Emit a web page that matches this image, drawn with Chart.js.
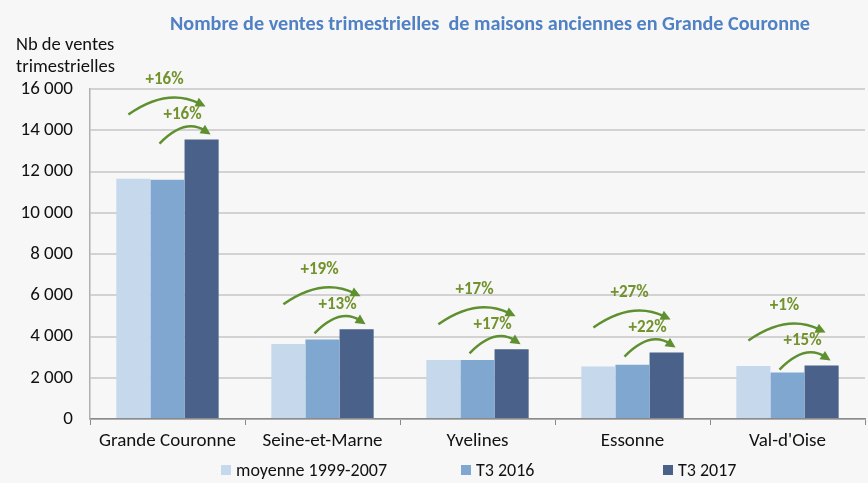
<!DOCTYPE html>
<html>
<head>
<meta charset="utf-8">
<script src="https://cdn.jsdelivr.net/npm/chart.js@4"></script>
<style>
  html, body { margin: 0; padding: 0; background: #f7f7f7; }
  #wrap { width: 868px; height: 483px; position: relative; }
</style>
</head>
<body>
<div id="wrap"><canvas id="chart"></canvas></div>
<script>
// Data
const categories = ['Grande Couronne', 'Seine-et-Marne', 'Yvelines', 'Essonne', "Val-d'Oise"];
const seriesNames = ['moyenne 1999-2007', 'T3 2016', 'T3 2017'];
const moyenne = [11650, 3640, 2860, 2540, 2570];
const t3_2016 = [11600, 3860, 2860, 2630, 2260];
const t3_2017 = [13550, 4350, 3380, 3220, 2590];
const evolVsMoyenne = ['+16%', '+19%', '+17%', '+27%', '+1%'];
const evolVs2016 = ['+16%', '+13%', '+17%', '+22%', '+15%'];
const yMax = 16000;
const yStep = 2000;

const colors = ['#c5d8ec', '#80a7cf', '#4a6189'];
const arrowGreen = '#5f9030';
const labelGreen = '#72922c';
const font = 'Carlito, Lato, sans-serif';

function formatNb(v) {
    return String(v).replace(/\B(?=(\d{3})+(?!\d))/g, ' ');
}

// Draws a curved arrow (quadratic) with a filled head at the end
function curvedArrow(ctx, sx, sy, ex, ey, lift) {
    const cx = (sx + ex) / 2;
    const cy = Math.min(sy, ey) - lift;
    const ang = Math.atan2(ey - cy, ex - cx);
    const head = 10;
    const lx = ex - Math.cos(ang) * head * 0.7;
    const ly = ey - Math.sin(ang) * head * 0.7;
    ctx.beginPath();
    ctx.moveTo(sx, sy);
    ctx.quadraticCurveTo(cx, cy, lx, ly);
    ctx.stroke();
    ctx.beginPath();
    ctx.moveTo(ex, ey);
    ctx.lineTo(ex - Math.cos(ang) * head + Math.sin(ang) * 5, ey - Math.sin(ang) * head - Math.cos(ang) * 5);
    ctx.lineTo(ex - Math.cos(ang) * head - Math.sin(ang) * 5, ey - Math.sin(ang) * head + Math.cos(ang) * 5);
    ctx.closePath();
    ctx.fill();
}

// Title, y axis title, growth arrows and legend
const extras = {
    id: 'extras',
    afterDatasetsDraw(chart) {
        const ctx = chart.ctx;
        ctx.save();
        ctx.lineWidth = 2.5;
        categories.forEach((c, i) => {
            const b0 = chart.getDatasetMeta(0).data[i];
            const b1 = chart.getDatasetMeta(1).data[i];
            const b2 = chart.getDatasetMeta(2).data[i];
            const top = b2.y;
            const w = b2.width;
            ctx.strokeStyle = arrowGreen;
            ctx.fillStyle = arrowGreen;
            // outer arrow: moyenne -> T3 2017
            curvedArrow(ctx, b0.x - 5, top - 25, b2.x + 4, top - 33, 19);
            // inner arrow: T3 2016 -> T3 2017
            curvedArrow(ctx, b1.x - 8, top + 4, b2.x + 9, top - 5, 17);
            ctx.fillStyle = labelGreen;
            ctx.font = 'bold 17px ' + font;
            ctx.textAlign = 'center';
            ctx.textBaseline = 'middle';
            ctx.fillText(evolVsMoyenne[i], b1.x - 3, top - 60);
            ctx.fillText(evolVs2016[i], b1.x + w / 2 - 2, top - 25);
        });
        ctx.restore();
    },
    afterDraw(chart) {
        const ctx = chart.ctx;
        ctx.save();
        ctx.fillStyle = '#4f81c4';
        ctx.font = 'bold 20.2px ' + font;
        ctx.textAlign = 'center';
        ctx.textBaseline = 'middle';
        ctx.fillText('Nombre de ventes trimestrielles  de maisons anciennes en Grande Couronne', 490, 25);

        ctx.fillStyle = '#111';
        ctx.font = '18.5px ' + font;
        ctx.textAlign = 'left';
        ctx.fillText('Nb de ventes', 16, 45);
        ctx.fillText('trimestrielles', 16, 67);

        // legend
        ctx.font = '18px ' + font;
        const legendX = [221, 461, 663];
        seriesNames.forEach((name, k) => {
            ctx.fillStyle = colors[k];
            ctx.fillRect(legendX[k], 465, 10, 10);
            ctx.fillStyle = '#111';
            ctx.fillText(name, legendX[k] + 15, 471);
        });
        ctx.restore();
    }
};

const ctx1 = document.getElementById('chart').getContext('2d');

new Chart(ctx1, {
    type: 'bar',
    data: {
        labels: categories,
        datasets: [
            { label: seriesNames[0], data: moyenne, backgroundColor: colors[0] },
            { label: seriesNames[1], data: t3_2016, backgroundColor: colors[1] },
            { label: seriesNames[2], data: t3_2017, backgroundColor: colors[2] }
        ]
    },
    options: {
        responsive: true,
        maintainAspectRatio: false,
        animation: false,
        layout: { padding: { top: 89, right: 3, left: 0, bottom: 0 } },
        datasets: {
            bar: { categoryPercentage: 0.66, barPercentage: 1.0 }
        },
        plugins: {
            legend: { display: false },
            title: { display: false },
            tooltip: { enabled: false }
        },
        scales: {
            x: {
                grid: {
                    offset: true,
                    drawOnChartArea: false,
                    drawTicks: true,
                    tickLength: 6,
                    color: '#8a8a8a'
                },
                border: { color: '#8a8a8a', width: 1.5 },
                ticks: {
                    color: '#111',
                    padding: 5,
                    font: { family: font, size: 19 }
                },
                afterFit(scale) { scale.height = 64; }
            },
            y: {
                min: 0,
                max: yMax,
                ticks: {
                    stepSize: yStep,
                    color: '#111',
                    padding: 17,
                    font: { family: font, size: 19 },
                    callback: v => formatNb(v)
                },
                grid: { color: '#d2d2d2', lineWidth: 2, drawTicks: false },
                border: { color: '#b0b0b0', width: 1.5 },
                afterFit(scale) { scale.width = 90; }
            }
        }
    },
    plugins: [extras]
});
</script>
</body>
</html>
